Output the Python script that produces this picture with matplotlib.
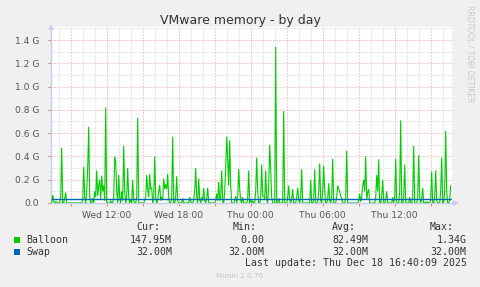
import matplotlib
matplotlib.use("Agg")
import matplotlib.pyplot as plt
import matplotlib.dates as mdates
import numpy as np
import pandas as pd

# ---------------- data ----------------
title = "VMware memory - by day"
end_time = "2025-12-18 16:40"
step_minutes = 5
# Balloon memory in G, one sample per 5 minutes (400 samples)
balloon = [
    0, .07, .02, 0, .01, .01, 0, 0, 0, .05, .475, 0, 0, .04, .09, 0, 0, 0, 0, 0,
    0, 0, 0, 0, 0, 0, 0, 0, 0, 0, 0, .03, .31, .05, 0, .1, .3, .655, .05, 0,
    0, .04, 0, .1, .05, .28, .06, .15, .2, .03, .235, .1, .15, .02, .82, 0, 0, 0, 0, .02,
    0, 0, .05, .40, .35, .1, 0, .24, .05, 0, .1, .02, .49, .1, 0, .05, .30, .05, 0, .03,
    0, .197, .02, 0, 0, .05, .733, 0, 0, 0, 0, 0, 0, .02, .05, .24, .12, .05, .25, .12,
    .13, 0, .03, .40, .05, 0, .02, .1, .155, .02, .05, .03, .21, .12, .16, .12, .25, .03, 0, 0,
    .05, .57, 0, 0, .05, .23, .02, 0, 0, 0, 0, .04, 0, 0, 0, 0, 0, 0, .05, .01,
    0, 0, .03, .1, .30, .05, 0, .21, .03, 0, .05, .02, .13, .02, 0, .04, .13, 0, 0, 0,
    0, 0, 0, 0, .02, .08, .02, .18, .02, .05, .28, .01, 0, .1, .3, .57, .38, .15, .54, .15,
    0, 0, 0, .02, .06, 0, .05, .29, .12, .02, 0, .05, 0, 0, 0, 0, .03, .28, 0, .03,
    0, .02, 0, 0, .1, .39, .1, 0, 0, .05, .33, .06, .06, .03, .28, .03, 0, .15, .50, .29,
    .05, 0, 0, 0, 1.34, 0, 0, .04, 0, 0, 0, 0, .79, 0, 0, 0, .05, .15, .03, 0,
    .03, .12, 0, 0, 0, .05, .13, .02, 0, .05, .29, 0, 0, 0, 0, 0, 0, 0, 0, .20,
    0, 0, .02, .29, 0, 0, 0, .1, .34, .02, 0, .1, .32, .1, 0, 0, .03, .17, .02, 0,
    .05, .38, 0, 0, 0, .05, .15, .12, .10, .06, .04, 0, 0, 0, .05, .45, 0, 0, 0, 0,
    0, 0, 0, 0, 0, 0, 0, .02, .08, .01, .05, .15, .2, .1, .40, .03, .09, .12, 0, 0,
    0, 0, 0, 0, .05, .24, .1, .375, 0, 0, .05, .20, 0, 0, .03, .10, 0, 0, 0, 0,
    0, .05, 0, .05, .38, 0, 0, 0, .1, .71, 0, 0, .05, .33, 0, 0, 0, 0, .05, 0,
    0, .05, .49, 0, 0, 0, .05, .41, .05, 0, .03, .13, 0, 0, .01, 0, .01, 0, 0, .03,
    .27, 0, 0, .05, .28, .02, 0, 0, 0, .1, .39, 0, 0, .1, .62, .1, 0, 0, .02, .148,
]
swap_value = 0.032  # G, constant

y_ticks = [0.0, 0.2, 0.4, 0.6, 0.8, 1.0, 1.2, 1.4]
y_tick_labels = ["0.0", "0.2 G", "0.4 G", "0.6 G", "0.8 G", "1.0 G", "1.2 G", "1.4 G"]

series_names = ["Balloon", "Swap"]
series_colors = ["#00CC00", "#0066B3"]
stat_headers = ["Cur:", "Min:", "Avg:", "Max:"]
balloon_stats = ["147.95M", "0.00", "82.49M", "1.34G"]
swap_stats = ["32.00M", "32.00M", "32.00M", "32.00M"]
last_update = "Last update: Thu Dec 18 16:40:09 2025"
footer = "Munin 2.0.76"
side_text = "RRDTOOL / TOBI OETIKER"

# ---------------- figure ----------------
W, H = 481, 287
DPI = 100
bg = "#F0F0F0"
fig = plt.figure(figsize=(W / DPI, H / DPI), dpi=DPI, facecolor=bg)

px_l, px_r, px_t, px_b = 50.5, 452, 27, 203
ax = fig.add_axes([px_l / W, 1 - px_b / H, (px_r - px_l) / W, (px_b - px_t) / H])
ax.set_facecolor("white")

n = len(balloon)
times = pd.date_range(end=pd.Timestamp(end_time), periods=n, freq=f"{step_minutes}min")
swap = np.full(n, swap_value)

t_end = pd.Timestamp(end_time)
px_per_hour = 12.0
x_left = t_end - pd.Timedelta(hours=(450.7 - px_l) / px_per_hour)
x_right = t_end + pd.Timedelta(hours=(px_r - 450.7) / px_per_hour)
ax.set_xlim(x_left, x_right)
ymax = 1.4 * (px_b - px_t) / (px_b - 40)
ax.set_ylim(0, ymax)

# grids
minor_c = "#cccccc"
major_c = "#e29a9a"
ax.xaxis.set_major_locator(mdates.HourLocator(byhour=range(0, 24, 3)))
ax.xaxis.set_minor_locator(mdates.HourLocator())
def xfmt(x, pos):
    d = mdates.num2date(x)
    if d.hour % 6 == 0:
        return d.strftime("%a %H:%M")
    return ""
ax.xaxis.set_major_formatter(plt.FuncFormatter(xfmt))
ax.set_yticks(y_ticks)
ax.set_yticklabels(y_tick_labels)
ax.set_yticks(np.arange(0.1, 1.51, 0.2), minor=True)

ax.grid(which="minor", color=minor_c, linestyle=(0, (1, 2)), linewidth=0.72)
ax.grid(which="major", color=major_c, linestyle=(0, (1, 2)), linewidth=0.72)
ax.set_axisbelow(True)

ax.tick_params(axis="both", which="both", length=0, labelsize=6.6, colors="#555555")
ax.tick_params(axis="x", which="major", length=2, color="#e08080", pad=4)
ax.tick_params(axis="y", which="major", length=2, color="#e08080", pad=6)
for lab in ax.get_xticklabels() + ax.get_yticklabels():
    lab.set_color("#555555")

for s in ["top", "right"]:
    ax.spines[s].set_visible(False)
axis_c = "#c8ccee"
ax.spines["left"].set_color(axis_c)
ax.spines["bottom"].set_color(axis_c)
ax.spines["left"].set_linewidth(1)
ax.spines["bottom"].set_linewidth(1)

# data
ax.plot(times, balloon, color=series_colors[0], linewidth=0.8, solid_joinstyle="miter", zorder=3)
ax.plot(times, swap, color=series_colors[1], linewidth=1.0, zorder=4)

# axis arrows
ax.plot([0], [1.0], marker="^", markersize=5, color=axis_c, transform=ax.transAxes,
        clip_on=False, zorder=5, markeredgewidth=0)
ax.plot([1.0 + 4 / (px_r - px_l)], [0], marker=">", markersize=5, color=axis_c,
        transform=ax.transAxes, clip_on=False, zorder=5, markeredgewidth=0)

# texts in pixel coordinates
def ftext(x, y, s, **kw):
    fig.text(x / W, 1 - y / H, s, **kw)

ftext(240.3, 24, title, ha="center", va="baseline", fontsize=9.0, color="#333333")
ftext(470.5, 5, side_text, ha="center", va="top", rotation=270, fontsize=5.5,
      color="#c8c8c8")

mono = "DejaVu Sans Mono"
fs = 7.1
tc = "#333333"
header_right = [160, 257, 356, 454]
value_right = [172, 264, 368.7, 466.7]
for h, xr in zip(stat_headers, header_right):
    ftext(xr, 230, h, ha="right", va="baseline", fontsize=fs, family=mono, color=tc)
rows_y = [243, 255]
for name, col, stats, yb in zip(series_names, series_colors, [balloon_stats, swap_stats], rows_y):
    fig.patches.append(plt.Rectangle((14 / W, 1 - (yb - 0.5) / H), 6 / W, 6 / H,
                                     transform=fig.transFigure, facecolor=col,
                                     edgecolor="none"))
    ftext(26, yb, name, ha="left", va="baseline", fontsize=fs, family=mono, color=tc)
    for v, xr in zip(stats, value_right):
        ftext(xr, yb, v, ha="right", va="baseline", fontsize=fs, family=mono, color=tc)
ftext(466.7, 266.5, last_update, ha="right", va="baseline", fontsize=fs, family=mono, color=tc)
ftext(240, 276, footer, ha="center", va="center", fontsize=5.2, color="#c4c4c4")

fig.savefig("out.png", dpi=DPI, facecolor=bg)
